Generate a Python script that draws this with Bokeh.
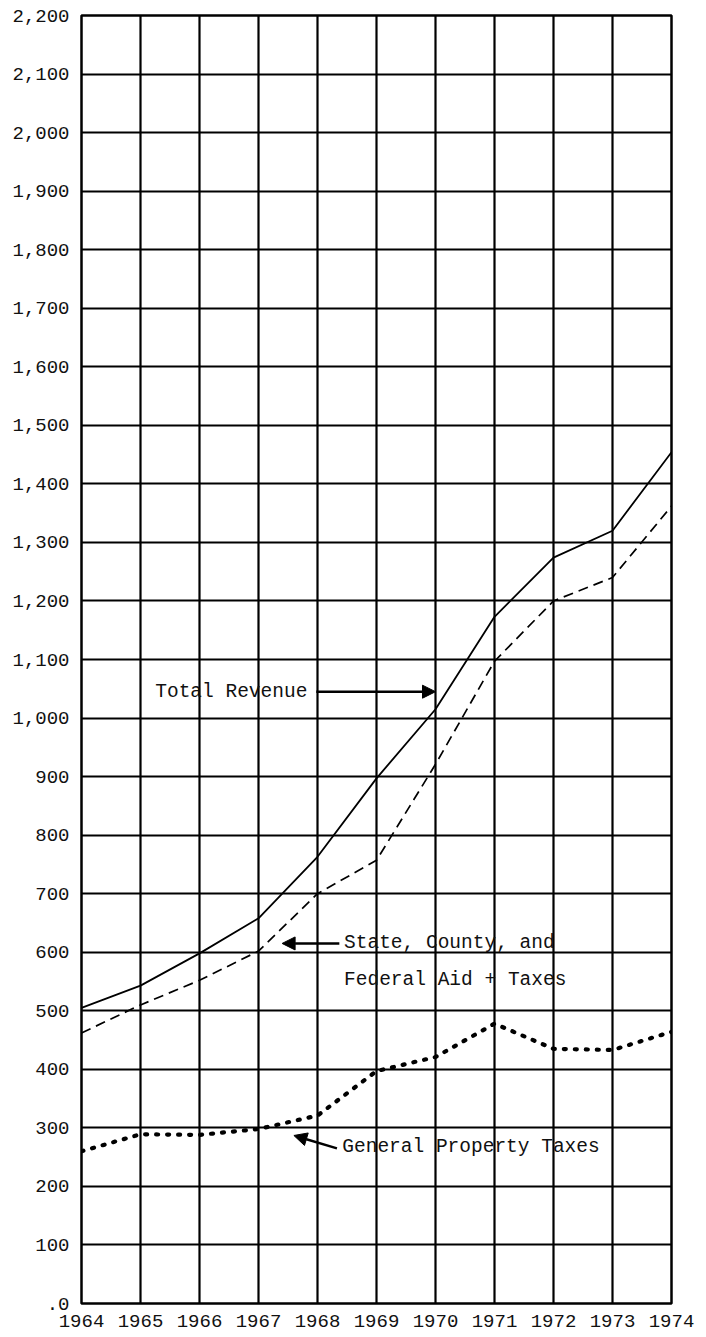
from bokeh.plotting import figure
from bokeh.models import FixedTicker, Arrow, NormalHead, Label, Range1d
from bokeh.embed import file_html
from bokeh.resources import INLINE

years = [1964, 1965, 1966, 1967, 1968, 1969, 1970, 1971, 1972, 1973, 1974]
total_revenue = [505, 543, 598, 658, 763, 897, 1015, 1173, 1274, 1320, 1454]
state_county_federal = [462, 510, 552, 602, 700, 757, 921, 1097, 1200, 1240, 1362]
general_property = [260, 289, 288, 298, 321, 397, 421, 478, 435, 433, 464]

y_ticks = list(range(0, 2201, 100))
y_tick_labels = [".0"] + [f"{v:,}" for v in y_ticks[1:]]
x_tick_labels = [str(y) for y in years]

FONT = "Liberation Mono"

p = figure(width=700, height=1336,
           x_range=Range1d(1964, 1974), y_range=Range1d(0, 2200),
           output_backend="svg", toolbar_location=None,
           min_border_left=81, min_border_top=15,
           min_border_right=29, min_border_bottom=33)

p.background_fill_color = "white"
p.border_fill_color = "white"
p.outline_line_color = "black"
p.outline_line_width = 2.5

p.xaxis.ticker = FixedTicker(ticks=years)
p.yaxis.ticker = FixedTicker(ticks=y_ticks)
p.xaxis.major_label_overrides = {y: s for y, s in zip(years, x_tick_labels)}
p.yaxis.major_label_overrides = {v: s for v, s in zip(y_ticks, y_tick_labels)}
for ax in (p.xaxis, p.yaxis):
    ax.axis_line_color = None
    ax.major_tick_line_color = None
    ax.minor_tick_line_color = None
    ax.major_label_text_font = FONT
    ax.major_label_text_font_size = "19px"
    ax.major_label_text_color = "#111111"
p.yaxis.major_label_standoff = 6
p.xaxis.major_label_standoff = 5

p.xgrid.ticker = FixedTicker(ticks=years)
p.ygrid.ticker = FixedTicker(ticks=y_ticks)
for g in (p.xgrid, p.ygrid):
    g.grid_line_color = "black"
    g.grid_line_width = 2.2
    g.grid_line_alpha = 1.0

p.line(years, total_revenue, line_color="black", line_width=1.8)
p.line(years, state_county_federal, line_color="black", line_width=1.7,
       line_dash="10 6")
p.line(years, general_property, line_color="black", line_width=4.2,
       line_dash="2 9", line_cap="round")

def label(x, y, text):
    p.add_layout(Label(x=x, y=y, text=text, text_font=FONT,
                       text_font_size="19.5px", text_baseline="middle",
                       text_color="#111111"))

def arrow(x0, y0, x1, y1):
    p.add_layout(Arrow(end=NormalHead(size=13, fill_color="black",
                                      line_color="black", line_width=1),
                       x_start=x0, y_start=y0, x_end=x1, y_end=y1,
                       line_color="black", line_width=2.5))

label(1965.25, 1045, "Total Revenue")
arrow(1967.98, 1045, 1970.0, 1045)

label(1968.45, 615, "State, County, and")
label(1968.45, 553, "Federal Aid + Taxes")
arrow(1968.37, 615, 1967.4, 615)

label(1968.42, 268, "General Property Taxes")
arrow(1968.33, 265, 1967.6, 287)

open("out.html", "w").write(file_html(p, INLINE))
